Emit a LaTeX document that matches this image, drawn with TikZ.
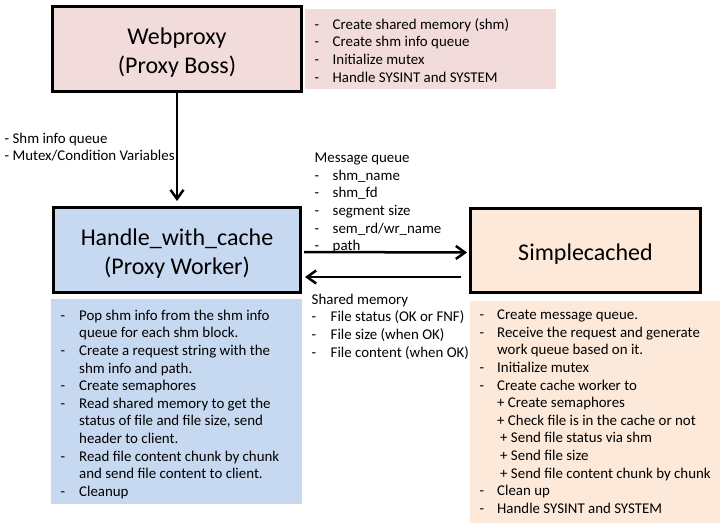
\documentclass[tikz,border=0pt]{standalone}
\usepackage{fontspec}
\setmainfont{Carlito}
\usetikzlibrary{arrows.meta}
\definecolor{bosspink}{HTML}{F2DCDB}
\definecolor{workerblue}{HTML}{C6D9F1}
\definecolor{cachepeach}{HTML}{FDE9D9}
\newcommand{\titlestrut}{\rule{0pt}{23pt}}
\begin{document}
\begin{tikzpicture}[x=1pt,y=-1pt,
	box/.style={draw,line width=3pt,align=center,font=\fontsize{24}{29}\selectfont},
	notes/.style={anchor=north west,inner sep=0pt,font=\fontsize{14.9}{17.6}\selectfont},
	link/.style={line width=2.5pt,-{Straight Barb[length=9pt,width=13pt]}}]
	   \useasboundingbox (0,0) rectangle (726,530);
	   \fill [fill=bosspink]   (305,9) -- (556,9) -- (556,89) -- (305,89) -- cycle;
	   \fill [fill=workerblue] (51,299) -- (302,299) -- (302,504) -- (51,504) -- cycle;
	   \fill [fill=cachepeach] (470,301) -- (720,301) -- (720,523) -- (470,523) -- cycle;
	   \node [box,fill=bosspink,minimum width=249pt,minimum height=85pt] (boss) at (177,49) {\titlestrut Webproxy\\(Proxy Boss)};
	   \node [box,fill=workerblue,minimum width=247pt,minimum height=85pt] (worker) at (177,250) {\titlestrut Handle\_with\_cache\\(Proxy Worker)};
	   \node [box,fill=cachepeach,minimum width=230pt,minimum height=84pt] (cache) at (585.5,250.5) {\titlestrut Simplecached};
	   \node [notes] (bossjobs) at (314.5,16.8) {\begin{tabular}{@{}p{18pt}@{}l@{}}
		-&Create shared memory (shm)\\
		-&Create shm info queue\\
		-&Initialize mutex\\
		-&Handle SYSINT and SYSTEM
	   \end{tabular}};
	   \node [notes] (shminfo) at (4.5,130.75) {\begin{tabular}{@{}l@{}}
		- Shm info queue\\
		- Mutex/Condition Variables
	   \end{tabular}};
	   \node [notes] (msgqueue) at (314.5,150.25) {\begin{tabular}{@{}p{18pt}@{}l@{}}
		\multicolumn{2}{@{}l@{}}{Message queue}\\
		-&shm\_name\\
		-&shm\_fd\\
		-&segment size\\
		-&sem\_rd/wr\_name\\
		-&path
	   \end{tabular}};
	   \node [notes] (shmem) at (311.5,291.75) {\begin{tabular}{@{}p{19pt}@{}l@{}}
		\multicolumn{2}{@{}l@{}}{Shared memory}\\
		-&File status (OK or FNF)\\
		-&File size (when OK)\\
		-&File content (when OK)
	   \end{tabular}};
	   \node [notes] (workerjobs) at (60.5,307.75) {\begin{tabular}{@{}p{18.5pt}@{}l@{}}
		-&Pop shm info from the shm info\\
		&queue for each shm block.\\
		-&Create a request string with the\\
		&shm info and path.\\
		-&Create semaphores\\
		-&Read shared memory to get the\\
		&status of file and file size, send\\
		&header to client.\\
		-&Read file content chunk by chunk\\
		&and send file content to client.\\
		-&Cleanup
	   \end{tabular}};
	   \node [notes] (cachejobs) at (479.5,307.25) {\begin{tabular}{@{}p{17.5pt}@{}l@{}}
		-&Create message queue.\\
		-&Receive the request and generate\\
		&work queue based on it.\\
		-&Initialize mutex\\
		-&Create cache worker to\\
		&+ Create semaphores\\
		&+ Check file is in the cache or not\\
		&\hspace{3pt}+ Send file status via shm\\
		&\hspace{3pt}+ Send file size\\
		&\hspace{3pt}+ Send file content chunk by chunk\\
		-&Clean up\\
		-&Handle SYSINT and SYSTEM
	   \end{tabular}};
	   \draw [link,shorten >=5pt] (boss) -- (worker);
	   \draw [link,shorten <=2pt,shorten >=2pt] ([yshift=-2pt]worker.east) -- ([yshift=-2pt]cache.west);
	   \draw [link,shorten <=8pt,shorten >=3pt] ([yshift=-26.5pt]cache.west) -- ([yshift=-27pt]worker.east);
	\end{tikzpicture}
\end{document}
